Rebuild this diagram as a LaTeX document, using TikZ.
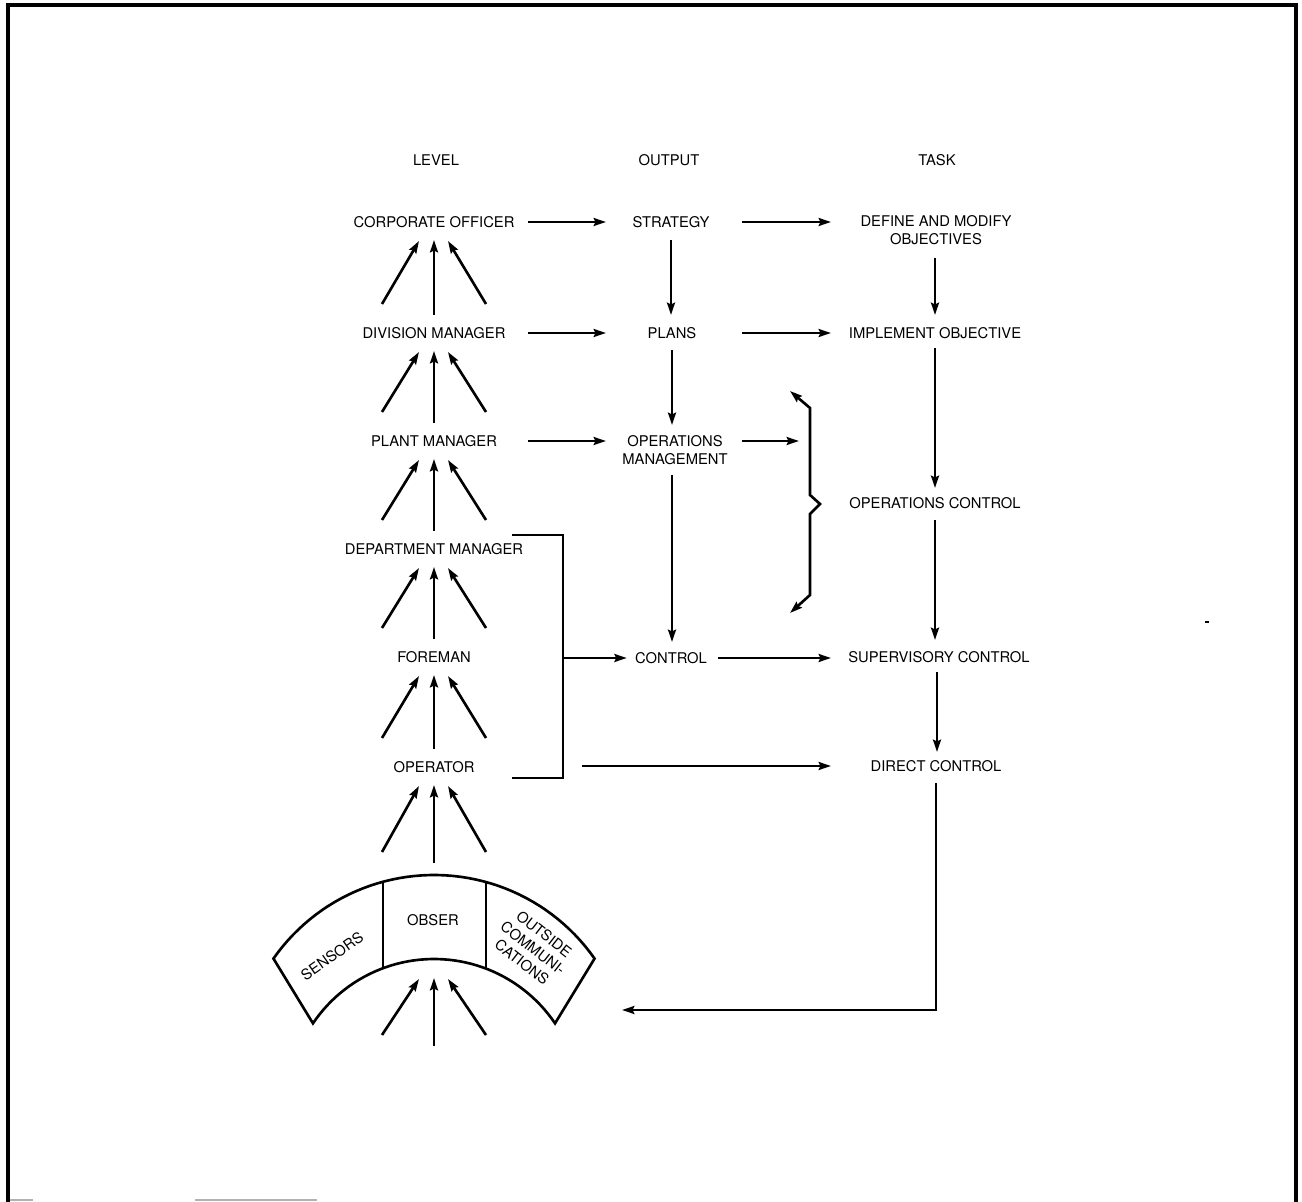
\documentclass[tikz,border=0pt]{standalone}
\usepackage{fontspec}
\setmainfont{TeX Gyre Heros}
\usetikzlibrary{arrows.meta,calc}
\tikzset{
  lbl/.style={font=\fontsize{8.4}{10.2}\selectfont, inner sep=0pt, align=center},
  arr/.style={-{Stealth[length=7pt,width=4.5pt,inset=1pt]}, line width=1.5pt},
  arrboth/.style={{Stealth[length=7pt,width=4.5pt,inset=1pt]}-{Stealth[length=7pt,width=4.5pt,inset=1pt]}, line width=1.5pt},
  wire/.style={line width=1.5pt},
  frame/.style={line width=1.8pt},
}

\begin{document}
\begin{tikzpicture}[x=0.02cm, y=-0.02cm]
  \useasboundingbox (0,0) rectangle (1302,1202);
  % frame
  \draw[frame] (8,1202) -- (8,5) -- (1296,5) -- (1296,1202);
  \draw[gray!60, line width=0.6pt] (10,1200) -- (33,1200) (195,1200) -- (317,1200);
  \fill (1205,621) rectangle (1209,623);

  % column heads
  \node[lbl] (hlevel) at (436,160) {LEVEL};
  \node[lbl] (houtput) at (669,160) {OUTPUT};
  \node[lbl] (htask) at (937,160) {TASK};

  % level column
  \node[lbl] (corp) at (434,222) {CORPORATE OFFICER};
  \node[lbl] (div) at (434,333) {DIVISION MANAGER};
  \node[lbl] (plant) at (434,441) {PLANT MANAGER};
  \node[lbl] (dept) at (434,549) {DEPARTMENT MANAGER};
  \node[lbl] (fore) at (434,657) {FOREMAN};
  \node[lbl] (oper) at (434,767) {OPERATOR};

  % output column
  \node[lbl] (strat) at (671,222) {STRATEGY};
  \node[lbl] (plans) at (672,333) {PLANS};
  \node[lbl] (opsmgmt) at (675,450) {OPERATIONS\\MANAGEMENT};
  \node[lbl] (ctrl) at (671,658) {CONTROL};

  % task column
  \node[lbl] (define) at (936,230) {DEFINE AND MODIFY\\OBJECTIVES};
  \node[lbl] (implement) at (935,333) {IMPLEMENT OBJECTIVE};
  \node[lbl] (opsctrl) at (935,503) {OPERATIONS CONTROL};
  \node[lbl] (superv) at (939,657) {SUPERVISORY CONTROL};
  \node[lbl] (direct) at (936,766) {DIRECT CONTROL};

  % observation band
  \draw[wire] plot[domain=35:145, samples=50] ({434+196*cos(\x)}, {1071-196*sin(\x)})
    -- plot[domain=146:34, samples=50] ({434+146*cos(\x)}, {1105-146*sin(\x)}) -- cycle;
  \draw[wire] (383,882) -- (383,968);
  \draw[wire] (486,882) -- (486,968);
  \node[lbl] (obser) at (433,920) {OBSER};
  \node[lbl, rotate=35] (sensors) at (332,956) {SENSORS};
  \node[lbl, rotate=-38] (outside) at (533,948) {OUTSIDE\\COMMUNI-\\CATIONS};
  \coordinate (obsin) at (434,881);
  \coordinate (arcbot) at (434,960);
  \coordinate (ground) at (434,1064);

  % fans of inputs
  \foreach \u/\l in {corp/div, div/plant, plant/dept, dept/fore, fore/oper, oper/obsin, arcbot/ground} {
    \draw[arr] ($(\l)+(-52,-29)$) -- ($(\u)+(-15,19)$);
    \draw[arr] ($(\l)+(0,-18)$) -- ($(\u)+(0,18)$);
    \draw[arr] ($(\l)+(52,-29)$) -- ($(\u)+(14,19)$);
  }

  % arrow columns
  \coordinate (c1a) at (528,0);
  \coordinate (c1b) at (606,0);
  \coordinate (c2a) at (742,0);
  \coordinate (c2b) at (831,0);
  \draw[arr] (c1a |- corp) -- (c1b |- corp);
  \draw[arr] (c1a |- div) -- (c1b |- div);
  \draw[arr] (c1a |- plant) -- (c1b |- plant);
  \draw[arr] (c2a |- strat) -- (c2b |- strat);
  \draw[arr] (c2a |- plans) -- (c2b |- plans);
  \draw[arr] ($(ctrl.east)+(11,0)$) -- (c2b |- ctrl);

  % downward chains
  \draw[arr] ($(strat)+(0,18)$) -- ($(strat |- plans)+(0,-18)$);
  \draw[arr] ($(plans)+(0,17)$) -- ($(plans |- opsmgmt)+(0,-25)$);
  \draw[arr] ($(plans |- opsmgmt)+(0,25)$) -- ($(plans |- ctrl)+(0,-16)$);
  \draw[arr] ($(implement |- define)+(0,28)$) -- ($(implement)+(0,-18)$);
  \draw[arr] ($(implement)+(0,15)$) -- ($(implement |- opsctrl)+(0,-15)$);
  \draw[arr] ($(opsctrl)+(0,17)$) -- ($(opsctrl |- superv)+(0,-17)$);
  \draw[arr] ($(superv)+(-2,15)$) -- ($(superv |- direct)+(-2,-14)$);
  \coordinate (ret) at (622,1010);
  \draw[arr] ($(direct)+(0,17)$) |- (ret);

  % brace over operations
  \coordinate (brace) at (810,504);
  \draw[arr] (c2a |- plant) -- ($(brace |- plant)+(-11,0)$);
  \draw[arrboth] ($(brace)+(-20,-113)$) -- ++(20,17) -- ++(0,87) -- ++(10,9)
    -- ++(-10,10) -- ++(0,81) -- ++(-20,18);

  % bracket from department manager to operator
  \coordinate (brtop) at (512,535);
  \coordinate (brbot) at (512,778);
  \coordinate (brmid) at (563,658);
  \draw[wire] (brtop) -| (brmid) |- (brbot);
  \draw[arr] (brmid) -- ($(ctrl.west)+(-8,0)$);
  \coordinate (opline) at (582,766);
  \draw[arr] (opline) -- (c2b |- direct);
\end{tikzpicture}
\end{document}
